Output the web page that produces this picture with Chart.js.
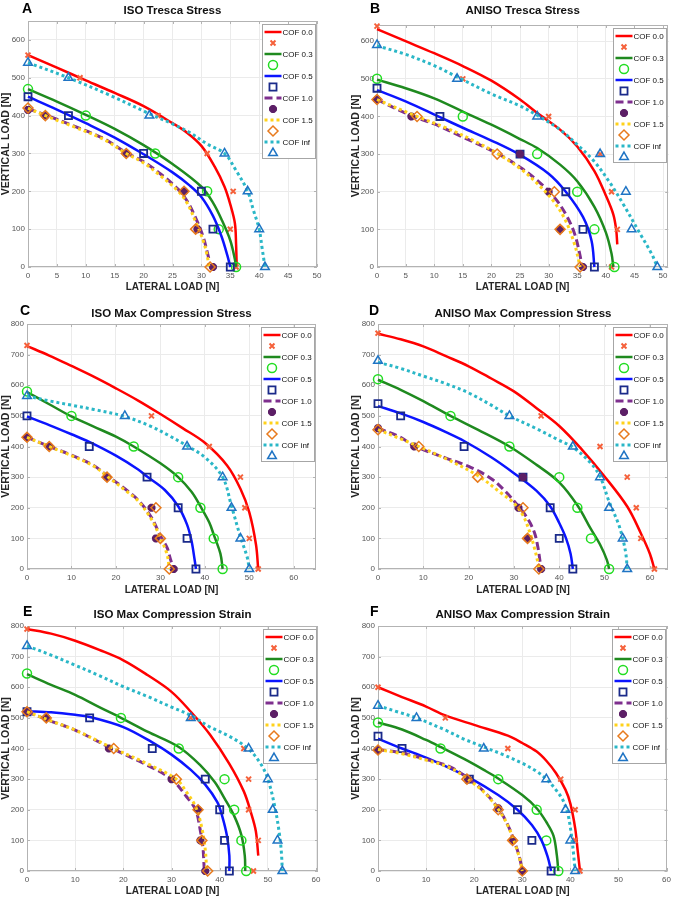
<!DOCTYPE html>
<html>
<head>
<meta charset="utf-8">
<script src="https://cdn.jsdelivr.net/npm/chart.js@4.4.1/dist/chart.umd.min.js"></script>
<style>
  body { margin: 0; background: #fff; }
  #figure { position: relative; width: 675px; height: 900px; overflow: hidden; background: #fff; }
  #figure canvas { position: absolute; }
</style>
</head>
<body>
<div id="figure"></div>
<script>
const cofLabels = ["COF 0.0", "COF 0.3", "COF 0.5", "COF 1.0", "COF 1.5", "COF inf"];

// A - ISO Tresca Stress  (fitted curves, then FE points), [lateral, vertical]
const isoTrescaLines = [
  [[0,560],[5,527],[10,493],[15,460],[20,425],[25,380],[27.5,355],[30,320],[32.3,265],[34,212],[35.1,160],[35.8,115],[36,60],[36.1,5]],
  [[0,470],[5,437],[10,402],[15,365],[20,322],[25,272],[30,212],[32,170],[33.5,125],[35,70],[35.8,20],[36,0]],
  [[0,450],[5,416],[10,380],[15,342],[20,298],[25,250],[28,215],[30,185],[32,135],[33.5,80],[34.5,30],[35,0]],
  [[0,418],[3,402],[8,372],[13,340],[17,302],[20,278],[23,245],[26,205],[27.5,175],[29,130],[30.3,80],[31,40],[31.4,15]],
  [[0,420],[3,400],[8,370],[13,338],[17,300],[20,275],[23,240],[26,200],[27.5,170],[29,120],[30.3,70],[31,30],[31.3,0]],
  [[0,540],[7,500],[14,455],[21,405],[25,378],[28,355],[31,325],[34,300],[36,255],[38,200],[39,150],[40,100],[40.5,50],[41,0]],
];
const isoTrescaMarkers = [
  [[0,560],[9,500],[22.5,400],[31,300],[35.5,200],[35,100],[36,0]],
  [[0,470],[10,400],[22,300],[31,200],[33,100],[36,0]],
  [[0,450],[7,400],[20,300],[30,200],[32,100],[35,0]],
  [[0,415],[3,400],[17,300],[27,200],[29.3,100],[32,0]],
  [[0,420],[3,400],[17,300],[27,200],[29,100],[31.5,0]],
  [[0,540],[7,500],[21,400],[34,300],[38,200],[40,100],[41,0]],
];

// B - ANISO Tresca Stress
const anisoTrescaLines = [
  [[0,632],[5,600],[10,568],[15,534],[20,495],[25,445],[28,409],[32,365],[35,320],[38,255],[40,190],[41.3,140],[41.8,100],[42,60]],
  [[0,498],[5,475],[10,448],[15,413],[20,378],[25,340],[28,316],[32,272],[35,228],[38,160],[40,92],[41,35],[41.3,0]],
  [[0,470],[5,440],[11,398],[15,370],[20,336],[25,298],[30,248],[33,200],[36,133],[37.5,70],[38,0]],
  [[0,445],[6,402],[10,380],[15,345],[21,302],[25,265],[28,230],[31,185],[33,140],[34.5,90],[35.5,30],[35.8,0]],
  [[0,445],[7,400],[12,370],[17,335],[21,302],[25,262],[28,222],[31,172],[33,122],[34.5,62],[35.3,15],[35.5,0]],
  [[0,588],[5,565],[10,535],[14,505],[20,460],[25,428],[28,403],[32,365],[35,325],[38,280],[40.8,222],[43,168],[46,88],[48,35],[49,0]],
];
const anisoTrescaMarkers = [
  [[0,640],[15,500],[30,400],[39,300],[41,200],[42,100],[41,0]],
  [[0,500],[15,400],[28,300],[35,200],[38,100],[41.5,0]],
  [[0,475],[11,400],[25,300],[33,200],[36,100],[38,0]],
  [[0,445],[6,400],[25,300],[30,200],[32,100],[36,0]],
  [[0,445],[7,400],[21,300],[31,200],[32,100],[35.5,0]],
  [[0,590],[14,500],[28,400],[39,300],[43.5,200],[44.5,100],[49,0]],
];

// C - ISO Max Compression Stress
const isoCompStressLines = [
  [[0,728],[5,697],[10,663],[15,628],[20,590],[25,550],[30,506],[35,460],[40,412],[45,338],[48,262],[50,185],[51.5,80],[52,0]],
  [[0,578],[5,538],[10,498],[15,465],[20,432],[24,400],[30,345],[34,300],[37,252],[39,205],[41,152],[42,112],[43.5,50],[44,0]],
  [[0,498],[5,470],[10,440],[14,415],[20,370],[25,325],[27,302],[31,258],[34,205],[36,145],[37,92],[37.7,30],[38,0]],
  [[0,430],[5,400],[10,372],[15,338],[18,305],[22,262],[25,225],[28,168],[30,108],[31.5,70],[32.3,30],[33,0]],
  [[0,430],[5,400],[10,370],[15,336],[18,303],[22,258],[25,222],[28,162],[30,102],[31.5,48],[32,0]],
  [[0,565],[5,549],[10,535],[15,521],[22,498],[28,465],[32,435],[36,402],[40,365],[44,300],[46,205],[48,105],[49.5,40],[50,0]],
];
const isoCompStressMarkers = [
  [[0,730],[28,500],[41,400],[48,300],[49,200],[50,100],[52,0]],
  [[0,580],[10,500],[24,400],[34,300],[39,200],[42,100],[44,0]],
  [[0,500],[14,400],[27,300],[34,200],[36,100],[38,0]],
  [[0,430],[5,400],[18,300],[28,200],[29,100],[33,0]],
  [[0,430],[5,400],[18,300],[29,200],[30,100],[32,0]],
  [[0,565],[22,500],[36,400],[44,300],[46,200],[48,100],[50,0]],
];

// D - ANISO Max Compression Stress
const anisoCompStressLines = [
  [[0,768],[5,750],[10,727],[15,695],[20,662],[25,622],[30,580],[35,525],[40,467],[45,390],[50,302],[55,204],[58,117],[60,50],[61,0]],
  [[0,618],[5,585],[10,548],[16,500],[22,455],[29,400],[35,340],[40,283],[44,208],[47,130],[49,80],[50.5,30],[51,0]],
  [[0,532],[5,508],[10,480],[15,447],[19,418],[25,365],[30,313],[35,255],[38,205],[40,150],[41.5,100],[42.5,50],[43,0]],
  [[0,460],[5,430],[8,402],[15,362],[20,335],[25,295],[28,255],[31,205],[33,165],[34.5,120],[35.3,70],[35.8,20],[36,0]],
  [[0,455],[5,425],[9,400],[15,360],[22,305],[27,250],[30,215],[32,175],[33.5,120],[34.5,70],[35.3,20],[35.5,0]],
  [[0,675],[5,655],[10,630],[15,605],[20,575],[25,535],[29,500],[35,458],[40,420],[43,398],[47,345],[49,302],[51,220],[53,150],[54,100],[54.7,50],[55,0]],
];
const anisoCompStressMarkers = [
  [[0,770],[36,500],[49,400],[55,300],[57,200],[58,100],[61,0]],
  [[0,620],[16,500],[29,400],[40,300],[44,200],[47,100],[51,0]],
  [[0,540],[5,500],[19,400],[32,300],[38,200],[40,100],[43,0]],
  [[0,460],[8,400],[32,300],[31,200],[33,100],[36,0]],
  [[0,455],[9,400],[22,300],[32,200],[33,100],[35.5,0]],
  [[0,680],[29,500],[43,400],[49,300],[51,200],[54,100],[55,0]],
];

// E - ISO Max Compression Strain
const isoCompStrainLines = [
  [[0,790],[5,775],[10,752],[15,722],[20,688],[25,640],[30,585],[34,520],[38,445],[42,350],[45,260],[46.5,190],[47.5,130],[48,50]],
  [[0,643],[5,608],[10,575],[15,535],[19.5,500],[25,455],[31.5,405],[36,345],[39,290],[41,237],[43,180],[44.5,117],[45.2,50],[45.3,0]],
  [[0,522],[5,518],[10,510],[13,503],[20,470],[26,420],[30,380],[34,330],[37,282],[39.5,225],[40.5,180],[41.5,115],[42,50],[42,0]],
  [[0,520],[4,495],[10,460],[17,405],[25,345],[30,300],[33,245],[35,200],[36,130],[36.5,80],[36.8,0]],
  [[0,520],[5,490],[10,460],[18,400],[25,350],[31,300],[33,260],[35,210],[36.3,140],[37,70],[37.3,0]],
  [[0,735],[5,705],[10,672],[15,638],[20,602],[25,570],[30,535],[34,508],[38,470],[42,440],[46,398],[48.5,350],[50,300],[51.5,205],[52.4,120],[52.8,60],[53,0]],
];
const isoCompStrainMarkers = [
  [[0,790],[34,500],[45,400],[46,300],[46,200],[48,100],[47,0]],
  [[0,645],[19.5,500],[31.5,400],[41,300],[43,200],[44.5,100],[45.5,0]],
  [[0,520],[13,500],[26,400],[37,300],[40,200],[41,100],[42,0]],
  [[0,520],[4,500],[17,400],[30,300],[35.5,200],[36,100],[37,0]],
  [[0,520],[4,500],[18,400],[31,300],[35.5,200],[36.3,100],[37.5,0]],
  [[0,735],[34,500],[46,400],[50,300],[51,200],[52,100],[53,0]],
];

// F - ANISO Max Compression Strain
const anisoCompStrainLines = [
  [[0,600],[5,568],[10,537],[14,508],[20,477],[27,442],[30,418],[33,390],[35,360],[37,320],[39,265],[40,220],[41,140],[41.5,70],[42,0]],
  [[0,485],[5,462],[10,428],[13,405],[18,365],[22,330],[25,302],[30,248],[33,205],[35,160],[36.5,115],[37.2,50],[37.5,0]],
  [[0,432],[5,400],[10,370],[15,335],[19,305],[25,248],[29,200],[32,150],[34,100],[35.3,45],[36,0]],
  [[0,397],[5,385],[10,365],[15,340],[18.5,305],[22,260],[25,205],[27,150],[28.5,90],[29.5,40],[30,0]],
  [[0,397],[5,383],[10,362],[15,337],[18.5,302],[22,258],[25,202],[27,148],[28.5,88],[29.5,38],[30,0]],
  [[0,540],[4,520],[8,500],[14,460],[18,430],[22,405],[26,380],[30,352],[33,325],[35,300],[37,265],[38.5,230],[39.5,185],[40.2,120],[40.7,50],[41,0]],
];
const anisoCompStrainMarkers = [
  [[0,600],[14,500],[27,400],[38,300],[41,200],[41,100],[42,0]],
  [[0,485],[13,400],[25,300],[33,200],[35,100],[37.5,0]],
  [[0,440],[5,400],[19,300],[29,200],[32,100],[36,0]],
  [[0,395],[18.7,300],[25,205],[28,100],[30,0]],
  [[0,395],[18.5,300],[25,200],[28,100],[30,0]],
  [[0,540],[8,500],[22,400],[35,300],[39,200],[40,100],[41,0]],
];

const panels = [
  { letter: "A", title: "ISO Tresca Stress", lines: isoTrescaLines, markers: isoTrescaMarkers, xMax: 50, xStep: 5, yMax: 650 },
  { letter: "B", title: "ANISO Tresca Stress", lines: anisoTrescaLines, markers: anisoTrescaMarkers, xMax: 50.9, xStep: 5, yMax: 643 },
  { letter: "C", title: "ISO Max Compression Stress", lines: isoCompStressLines, markers: isoCompStressMarkers, xMax: 65, xStep: 10, yMax: 800 },
  { letter: "D", title: "ANISO Max Compression Stress", lines: anisoCompStressLines, markers: anisoCompStressMarkers, xMax: 64, xStep: 10, yMax: 800 },
  { letter: "E", title: "ISO Max Compression Strain", lines: isoCompStrainLines, markers: isoCompStrainMarkers, xMax: 60.4, xStep: 10, yMax: 800 },
  { letter: "F", title: "ANISO Max Compression Strain", lines: anisoCompStrainLines, markers: anisoCompStrainMarkers, xMax: 60.2, xStep: 10, yMax: 800 },
];

// page geometry of each panel (canvas box, plot box, text anchors)
const panelBoxes = [
  { left: 0,   top: 0,   width: 337, height: 298, plot: [28, 317, 21, 267],   letterAt: [22, 13],   titleY: 11,  yTitleX: 6,    xTitleOffset: 11 },
  { left: 337, top: 0,   width: 338, height: 298, plot: [377, 672, 25, 267],  letterAt: [370, 13],  titleY: 11,  yTitleX: 19.5, xTitleOffset: 11 },
  { left: 0,   top: 298, width: 337, height: 300, plot: [27, 316, 324, 569],  letterAt: [20, 315],  titleY: 314, yTitleX: 6,    xTitleOffset: 8 },
  { left: 337, top: 298, width: 338, height: 300, plot: [378, 668, 324, 569], letterAt: [369, 315], titleY: 314, yTitleX: 19.5, xTitleOffset: 8 },
  { left: 0,   top: 598, width: 337, height: 302, plot: [27, 318, 626, 871],  letterAt: [23, 616],  titleY: 615, yTitleX: 6,    xTitleOffset: 9 },
  { left: 337, top: 598, width: 338, height: 302, plot: [378, 668, 626, 871], letterAt: [370, 616], titleY: 615, yTitleX: 19.5, xTitleOffset: 9 },
];

const lineStyles = [
  { color: "#ff0000", width: 2.5, dash: [] },
  { color: "#1f8a1f", width: 2.5, dash: [] },
  { color: "#0b14ff", width: 2.5, dash: [] },
  { color: "#7e2f8e", width: 3, dash: [8, 4] },
  { color: "#ffd21a", width: 3, dash: [3, 3] },
  { color: "#2ab7c7", width: 3, dash: [3, 3] },
];

const markerStyles = [
  { color: "#f5603a", pointStyle: "crossRot", radius: 3.5, borderWidth: 2 },
  { color: "#22dd22", pointStyle: "circle", radius: 4.5, borderWidth: 1.5 },
  { color: "#1a2a8a", pointStyle: "rect", radius: 5, borderWidth: 1.8 },
  { color: "#5c1f66", pointStyle: "star", radius: 4, borderWidth: 2.8 },
  { color: "#e87a1c", pointStyle: "rectRot", radius: 5, borderWidth: 1.5 },
  { color: "#1f74c4", pointStyle: "triangle", radius: 5, borderWidth: 1.5 },
];

const fontFamily = "'Liberation Sans', Arial, Helvetica, sans-serif";
const axisGrey = "#b3b3b3";
const tickGrey = "#555555";

Chart.defaults.font.family = fontFamily;

function drawMarker(ctx, style, x, y) {
  ctx.save();
  ctx.strokeStyle = style.color;
  ctx.fillStyle = "rgba(0,0,0,0)";
  ctx.lineWidth = style.borderWidth;
  if (Chart.helpers && Chart.helpers.drawPoint) {
    Chart.helpers.drawPoint(ctx, { pointStyle: style.pointStyle, rotation: 0, radius: style.radius, borderWidth: style.borderWidth }, x, y);
  } else {
    ctx.beginPath();
    ctx.arc(x, y, style.radius, 0, Math.PI * 2);
    ctx.stroke();
  }
  ctx.restore();
}

const panelDecor = {
  id: "panelDecor",
  beforeDatasetsDraw: (chart) => {
    const ctx = chart.ctx;
    const a = chart.chartArea;
    const sx = chart.scales.x;
    const sy = chart.scales.y;
    ctx.save();
    ctx.strokeStyle = axisGrey;
    ctx.lineWidth = 1;
    ctx.strokeRect(Math.round(a.left) + 0.5, Math.round(a.top) + 0.5, Math.round(a.right - a.left) - 1, Math.round(a.bottom - a.top) - 1);
    // small inward ticks on all four sides
    ctx.beginPath();
    sx.ticks.forEach((t) => {
      const px = Math.round(sx.getPixelForValue(t.value)) + 0.5;
      ctx.moveTo(px, a.bottom); ctx.lineTo(px, a.bottom - 3);
      ctx.moveTo(px, a.top); ctx.lineTo(px, a.top + 3);
    });
    sy.ticks.forEach((t) => {
      const py = Math.round(sy.getPixelForValue(t.value)) + 0.5;
      ctx.moveTo(a.left, py); ctx.lineTo(a.left + 3, py);
      ctx.moveTo(a.right, py); ctx.lineTo(a.right - 3, py);
    });
    ctx.stroke();
    ctx.restore();
  },
  afterDraw: (chart) => {
    const opts = chart.options.plugins.panelDecor;
    const ctx = chart.ctx;
    const a = chart.chartArea;
    ctx.save();
    // panel letter + title
    ctx.fillStyle = "#000";
    ctx.font = "bold 14px " + fontFamily;
    ctx.textAlign = "left";
    ctx.textBaseline = "alphabetic";
    ctx.fillText(opts.letter, opts.letterX, opts.letterY);
    ctx.fillStyle = "#111";
    ctx.font = "bold 11.5px " + fontFamily;
    ctx.textAlign = "center";
    ctx.textBaseline = "middle";
    ctx.fillText(opts.title, (a.left + a.right) / 2, opts.titleY);

    // legend box, top right inside the axes
    const boxW = 53;
    const boxH = 134;
    const bx = Math.round(a.right - 2 - boxW) + 0.5;
    const by = Math.round(a.top + 3) + 0.5;
    ctx.fillStyle = "#fff";
    ctx.fillRect(bx, by, boxW, boxH);
    ctx.strokeStyle = "#a6a6a6";
    ctx.lineWidth = 1;
    ctx.strokeRect(bx, by, boxW, boxH);
    ctx.font = "8px " + fontFamily;
    ctx.textAlign = "left";
    ctx.textBaseline = "middle";
    chart.data.datasets.forEach((ds, k) => {
      const rowY = by + 7.5 + k * 11;
      if (ds.legendKind === "line") {
        ctx.save();
        ctx.strokeStyle = ds.borderColor;
        ctx.lineWidth = ds.borderWidth;
        ctx.setLineDash(ds.borderDash);
        ctx.beginPath();
        ctx.moveTo(bx + 2, rowY);
        ctx.lineTo(bx + 19, rowY);
        ctx.stroke();
        ctx.restore();
        ctx.fillStyle = "#111";
        ctx.fillText(ds.label, bx + 20, rowY + 0.5);
      } else {
        drawMarker(ctx, ds.markerStyle, bx + 10.5, rowY);
      }
    });
    ctx.restore();
  },
};

function buildDatasets(lines, markers) {
  const sets = [];
  cofLabels.forEach((label, i) => {
    const ls = lineStyles[i];
    const ms = markerStyles[i];
    sets.push({
      label: label,
      legendKind: "line",
      data: lines[i].map(([x, y]) => ({ x: x, y: y })),
      showLine: true,
      borderColor: ls.color,
      borderWidth: ls.width,
      borderDash: ls.dash,
      borderJoinStyle: "round",
      pointRadius: 0,
      tension: 0.35,
      clip: false,
      order: 100 - 2 * i,
    });
    sets.push({
      label: "",
      legendKind: "marker",
      markerStyle: ms,
      data: markers[i].map(([x, y]) => ({ x: x, y: y })),
      showLine: false,
      pointStyle: ms.pointStyle,
      pointRadius: ms.radius,
      pointBorderWidth: ms.borderWidth,
      borderColor: ms.color,
      pointBorderColor: ms.color,
      backgroundColor: "rgba(0,0,0,0)",
      pointBackgroundColor: "rgba(0,0,0,0)",
      clip: false,
      order: 99 - 2 * i,
    });
  });
  return sets;
}

function createPanel(panel, box) {
  const canvas = document.createElement("canvas");
  canvas.width = box.width;
  canvas.height = box.height;
  canvas.style.left = box.left + "px";
  canvas.style.top = box.top + "px";
  canvas.style.width = box.width + "px";
  canvas.style.height = box.height + "px";
  document.getElementById("figure").appendChild(canvas);

  const [pl, pr, pt, pb] = box.plot;
  const xTitleSize = 10;
  const yTitleSize = 10.5;
  new Chart(canvas, {
    type: "scatter",
    data: { datasets: buildDatasets(panel.lines, panel.markers) },
    options: {
      responsive: false,
      devicePixelRatio: 1,
      animation: false,
      events: [],
      layout: {
        padding: { left: 0, bottom: 0, top: pt - box.top, right: box.left + box.width - pr },
      },
      plugins: {
        legend: { display: false },
        title: { display: false },
        tooltip: { enabled: false },
        panelDecor: {
          letter: panel.letter,
          title: panel.title,
          letterX: box.letterAt[0] - box.left,
          letterY: box.letterAt[1] - box.top,
          titleY: box.titleY - box.top,
        },
      },
      scales: {
        x: {
          type: "linear",
          min: 0,
          max: panel.xMax,
          afterFit: (scale) => { scale.height = box.top + box.height - pb; },
          grid: { color: "#ebebeb", lineWidth: 1, drawTicks: false },
          border: { display: false },
          ticks: {
            stepSize: panel.xStep,
            includeBounds: false,
            autoSkip: false,
            maxRotation: 0,
            padding: 4,
            color: tickGrey,
            font: { size: 8 },
          },
          title: {
            display: true,
            text: "LATERAL LOAD [N]",
            color: "#262626",
            font: { size: xTitleSize, weight: "bold", lineHeight: 1 },
            padding: { top: 0, bottom: box.xTitleOffset - xTitleSize / 2 },
          },
        },
        y: {
          type: "linear",
          min: 0,
          max: panel.yMax,
          afterFit: (scale) => { scale.width = pl - box.left; },
          grid: { color: "#ebebeb", lineWidth: 1, drawTicks: false },
          border: { display: false },
          ticks: {
            stepSize: 100,
            includeBounds: false,
            autoSkip: false,
            padding: 3,
            color: tickGrey,
            font: { size: 8 },
          },
          title: {
            display: true,
            text: "VERTICAL LOAD [N]",
            color: "#262626",
            font: { size: yTitleSize, weight: "bold", lineHeight: 1 },
            padding: { top: box.yTitleX - yTitleSize / 2, bottom: 0 },
          },
        },
      },
    },
    plugins: [panelDecor],
  });
}

panels.forEach((panel, i) => createPanel(panel, panelBoxes[i]));
</script>
</body>
</html>
